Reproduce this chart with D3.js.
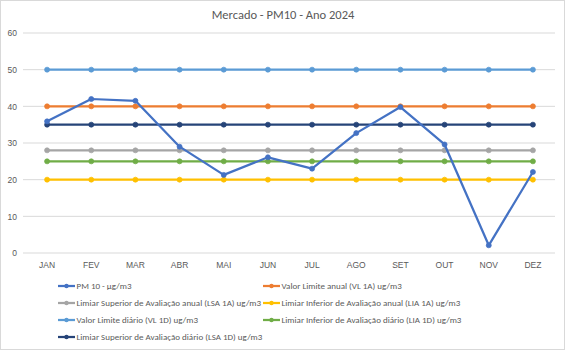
<!DOCTYPE html>
<html>
<head>
<meta charset="utf-8">
<script src="https://cdn.jsdelivr.net/npm/d3@7"></script>
<style>
  html, body { margin: 0; padding: 0; background: #fff; }
  svg { display: block; font-family: Carlito, Calibri, Lato, "Open Sans", sans-serif; }
</style>
</head>
<body>
<svg id="chart" width="565" height="350"></svg>
<script>
const months = ["JAN","FEV","MAR","ABR","MAI","JUN","JUL","AGO","SET","OUT","NOV","DEZ"];
const pm10 = [35.9, 42.0, 41.5, 29.0, 21.3, 26.1, 23.0, 32.7, 39.8, 29.6, 2.1, 22.1];
const vl1a = [40,40,40,40,40,40,40,40,40,40,40,40];
const lsa1a = [28,28,28,28,28,28,28,28,28,28,28,28];
const lia1a = [20,20,20,20,20,20,20,20,20,20,20,20];
const vl1d = [50,50,50,50,50,50,50,50,50,50,50,50];
const lia1d = [25,25,25,25,25,25,25,25,25,25,25,25];
const lsa1d = [35,35,35,35,35,35,35,35,35,35,35,35];
const yTicks = [0,10,20,30,40,50,60];
const seriesNames = [
  "PM 10 - µg/m3",
  "Valor Limite anual (VL 1A) ug/m3",
  "Limiar Superior de Avaliação anual (LSA 1A) ug/m3",
  "Limiar Inferior de Avaliação anual (LIA 1A) ug/m3",
  "Valor Limite diário (VL 1D) ug/m3",
  "Limiar Inferior de Avaliação diário (LIA 1D) ug/m3",
  "Limiar Superior de Avaliação diário (LSA 1D) ug/m3"
];
const seriesColors = ["#4472C4","#ED7D31","#A5A5A5","#FFC000","#5B9BD5","#70AD47","#264478"];
const seriesValues = [pm10, vl1a, lsa1a, lia1a, vl1d, lia1d, lsa1d];
// draw order: thresholds first, PM10 on top
const drawOrder = [1,2,3,4,5,6,0];

const svg = d3.select("#chart");
const W = 565, H = 350;

svg.append("rect").attr("x",0.5).attr("y",0.5).attr("width",W-1).attr("height",H-1)
  .attr("fill","#fff").attr("stroke","#D9D9D9");

svg.append("text").attr("x", 283).attr("y", 19).attr("text-anchor","middle")
  .attr("font-size", 12.5).attr("fill","#595959").text("Mercado - PM10 - Ano 2024");

const x = d3.scaleBand().domain(months).range([25, 555]);
const y = d3.scaleLinear().domain([0,60]).range([253, 33]);

// gridlines
svg.append("g").selectAll("line").data(yTicks).join("line")
  .attr("x1", 23).attr("x2", 555)
  .attr("y1", d => y(d)).attr("y2", d => y(d))
  .attr("stroke","#D9D9D9").attr("stroke-width",1);

// y axis labels
const yAxis = d3.axisLeft(y).tickValues(yTicks).tickSize(0).tickPadding(0);
const gy = svg.append("g").attr("transform","translate(17,0)").call(yAxis);
gy.select(".domain").remove();
gy.selectAll("text").attr("font-size", 8.5).attr("fill","#595959").attr("font-family", null);

// x axis labels
const xAxis = d3.axisBottom(x).tickSize(0).tickPadding(0);
const gx = svg.append("g").attr("transform","translate(0,262)").call(xAxis);
gx.select(".domain").remove();
gx.selectAll("text").attr("font-size", 8.5).attr("fill","#595959").attr("font-family", null);

const cx = d => x(d) + x.bandwidth()/2;
const line = d3.line().x((d,i) => cx(months[i])).y(d => y(d));

drawOrder.forEach(si => {
  const g = svg.append("g");
  g.append("path").datum(seriesValues[si]).attr("d", line)
    .attr("fill","none").attr("stroke", seriesColors[si]).attr("stroke-width", 2.25)
    .attr("stroke-linejoin","round").attr("stroke-linecap","round");
  g.selectAll("circle").data(seriesValues[si]).join("circle")
    .attr("cx", (d,i) => cx(months[i])).attr("cy", d => y(d)).attr("r", 2.5)
    .attr("fill", seriesColors[si]).attr("stroke", seriesColors[si]).attr("stroke-width", 0.75);
});

// legend
const legPos = [
  [58,286],[263,286],
  [58,303],[263,303],
  [58,320],[263,320],
  [58,337]
];
seriesNames.forEach((name, i) => {
  const [lx, ly] = legPos[i];
  const g = svg.append("g");
  g.append("line").attr("x1", lx).attr("x2", lx+17).attr("y1", ly).attr("y2", ly)
    .attr("stroke", seriesColors[i]).attr("stroke-width", 2.25);
  g.append("circle").attr("cx", lx+8.5).attr("cy", ly).attr("r", 2.2).attr("fill", seriesColors[i]);
  g.append("text").attr("x", lx+18.5).attr("y", ly+3.2).attr("font-size", 9)
    .attr("fill","#595959").text(name);
});
</script>
</body>
</html>
